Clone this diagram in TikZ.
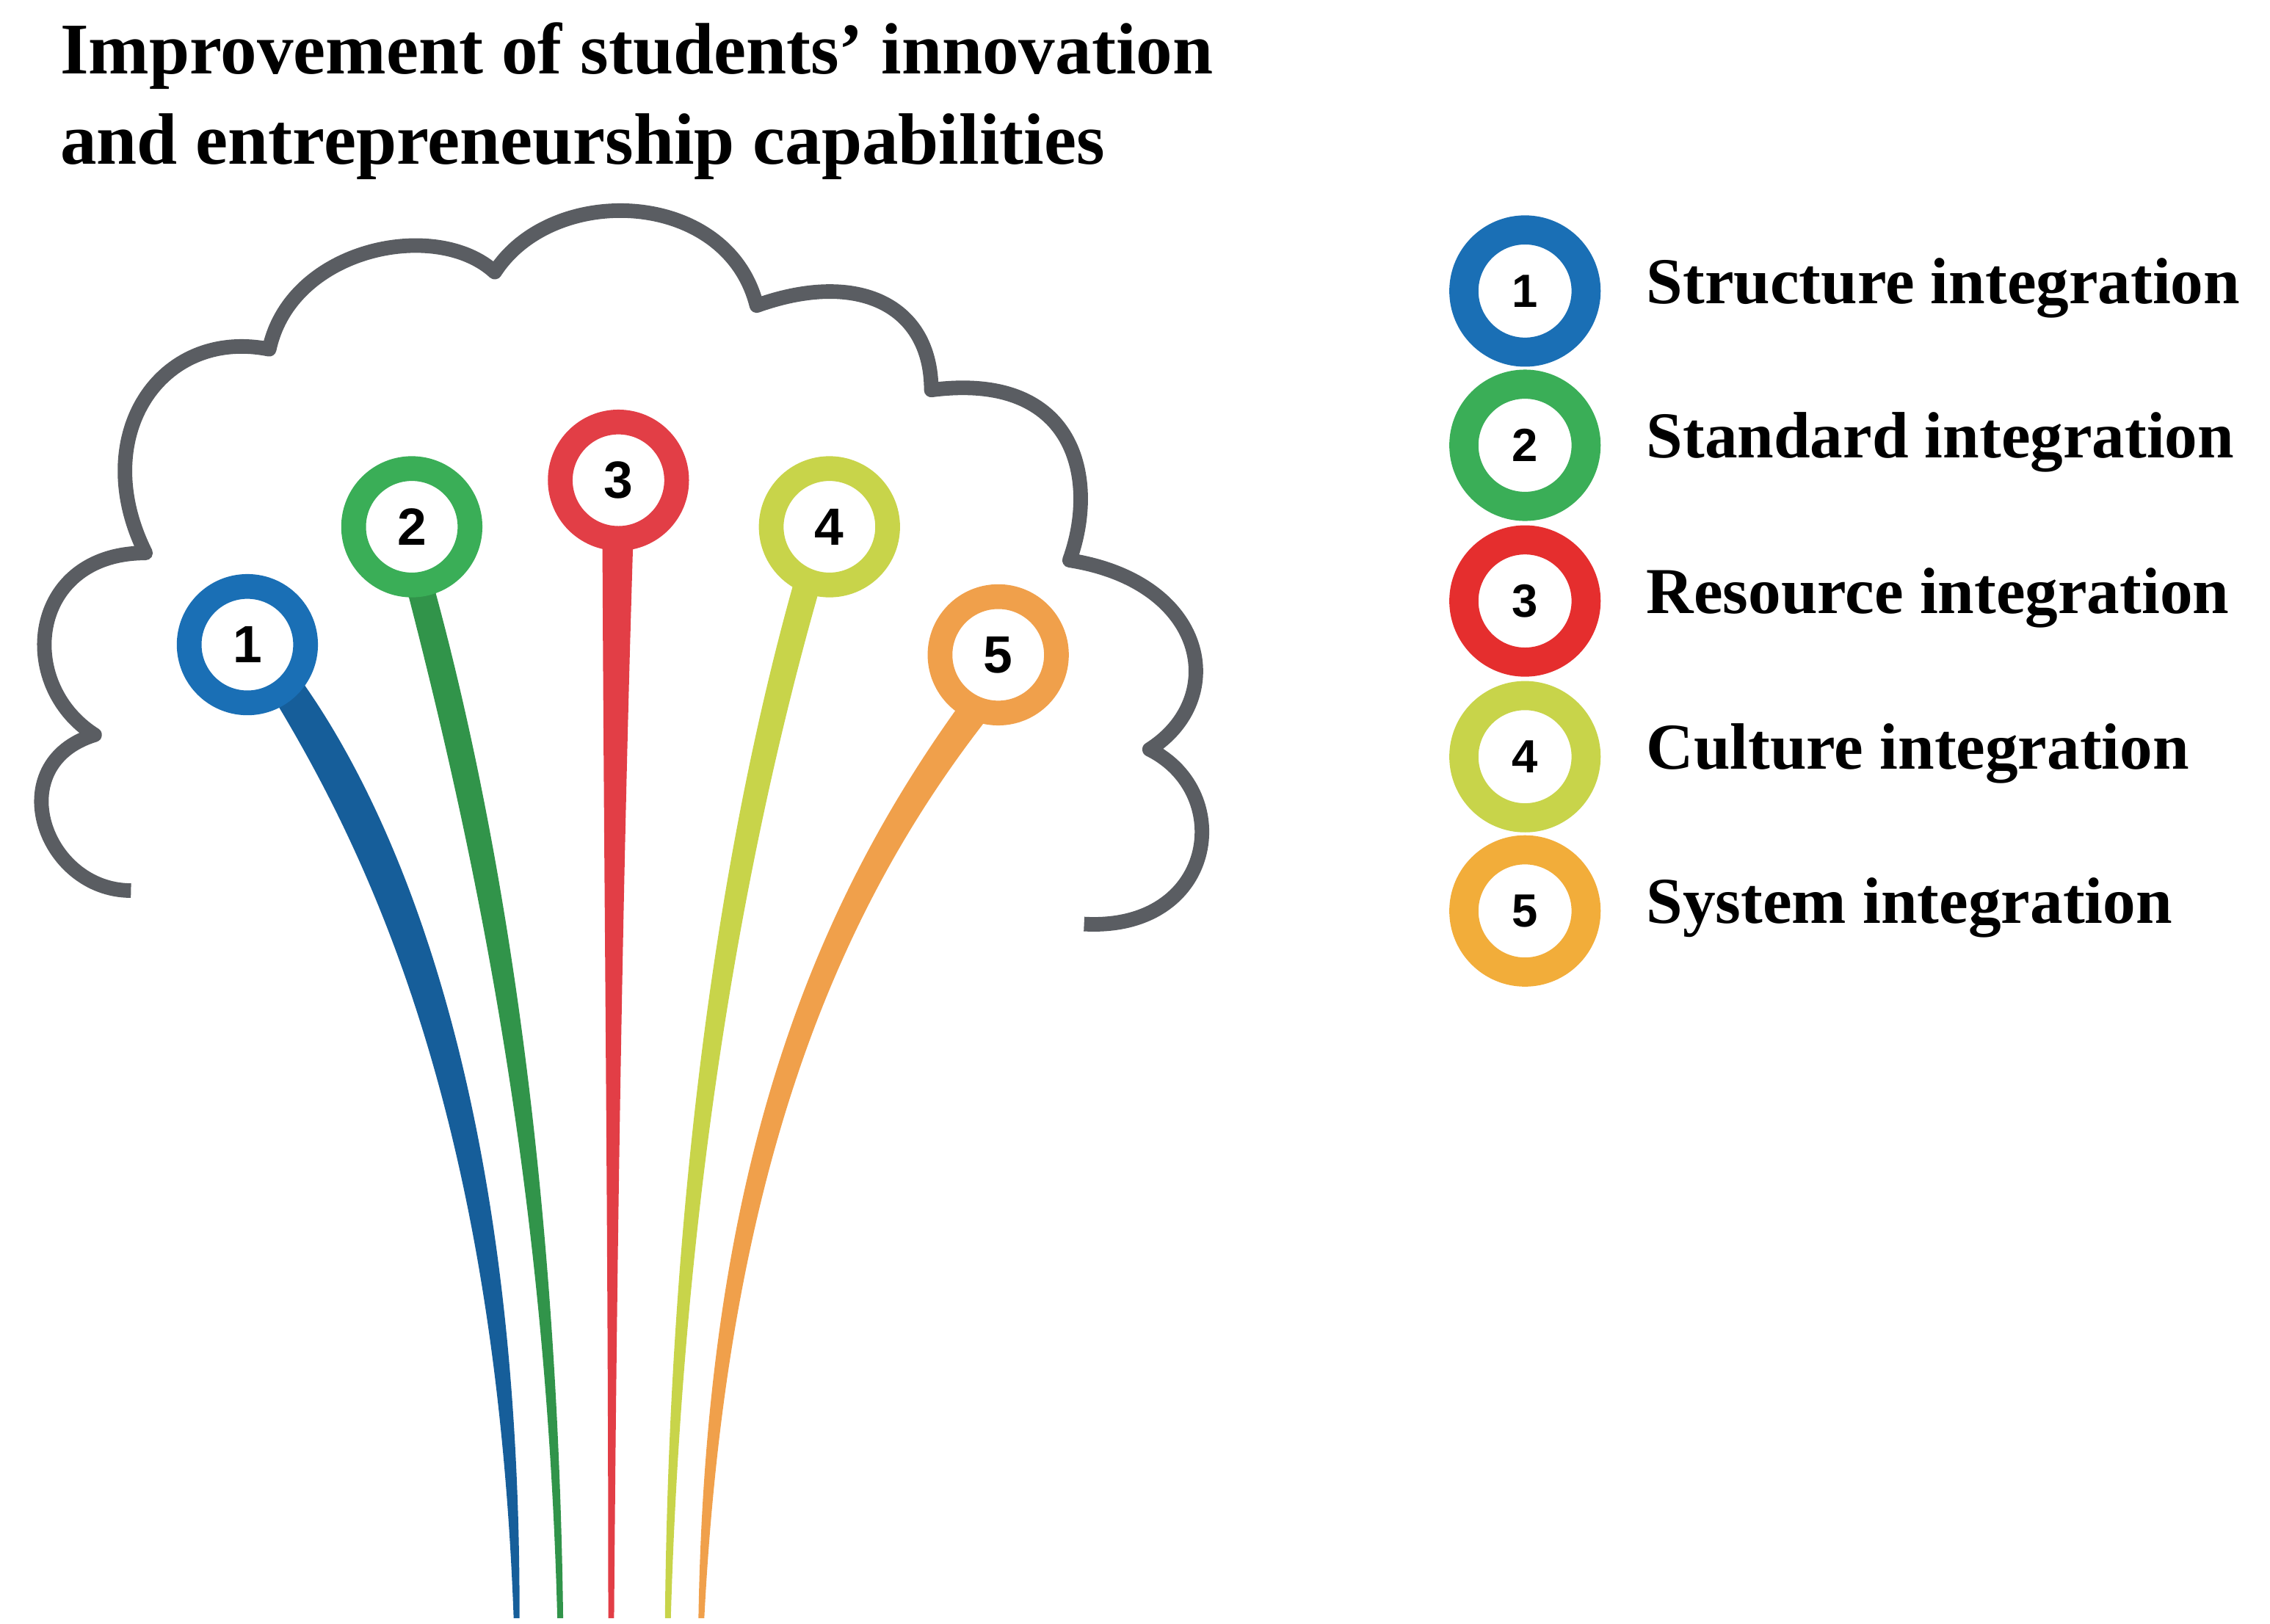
\documentclass[tikz,border=0pt]{standalone}
\usepackage{fontspec}
\setmainfont{Liberation Serif}
\newfontfamily\numfont{Liberation Sans}
\definecolor{cgray}{HTML}{5A5D62}
\definecolor{cblue}{HTML}{1A6FB5}
\definecolor{cgreen}{HTML}{3AAE57}
\definecolor{cred}{HTML}{E23E46}
\definecolor{cyel}{HTML}{C8D44A}
\definecolor{corg}{HTML}{F0A04B}
\definecolor{lred}{HTML}{E52E2E}
\definecolor{lorg}{HTML}{F2AD3A}
\begin{document}
\begin{tikzpicture}[x=1pt,y=-1pt,
  ring/.style={circle,draw=#1,line width=17pt,fill=white,minimum size=80pt,inner sep=0pt,font=\numfont\bfseries\fontsize{36}{36}\selectfont},
  lring/.style={circle,draw=#1,line width=20pt,fill=white,minimum size=84pt,inner sep=0pt,font=\numfont\bfseries\fontsize{32}{32}\selectfont},
  ltext/.style={anchor=west,font=\bfseries\fontsize{45}{48}\selectfont}]
\useasboundingbox (0,0) rectangle (1560,1116);
\node[anchor=north west,align=left,font=\bfseries\fontsize{50}{62}\selectfont] (title) at (38,12) {Improvement of students’ innovation\\and entrepreneurship capabilities};
% cloud
\draw[cgray,line width=10pt,line join=round] (90,612) .. controls (30,612) and (0,525) .. (65,505)
  .. controls (10,470) and (20,380) .. (100,380)
  .. controls (60,300) and (110,225) .. (185,240)
  .. controls (200,170) and (300,150) .. (340,187)
  .. controls (380,125) and (500,130) .. (520,210)
  .. controls (590,185) and (640,210) .. (640,268)
  .. controls (740,255) and (755,330) .. (735,385)
  .. controls (830,400) and (845,480) .. (790,515)
  .. controls (850,545) and (835,640) .. (745,635);
% stems
\fill[cblue!85!black] (182,470) .. controls (250,580) and (340,760) .. (353,1112) -- (357,1112) .. controls (358,760) and (275,560) .. (203,462) -- cycle;
\fill[cgreen!85!black] (277,395) .. controls (320,560) and (375,800) .. (383,1112) -- (387,1112) .. controls (383,800) and (342,560) .. (296,395) -- cycle;
\fill[cred] (414,375) .. controls (415,600) and (418,850) .. (418,1112) -- (422,1112) .. controls (424,850) and (428,600) .. (435,375) -- cycle;
\fill[cyel] (547,395) .. controls (500,560) and (460,800) .. (457,1112) -- (461,1112) .. controls (470,800) and (518,560) .. (566,395) -- cycle;
\fill[corg] (664,478) .. controls (560,620) and (485,800) .. (480,1112) -- (484,1112) .. controls (500,800) and (578,620) .. (683,488) -- cycle;
% circles
\node[ring=cblue] (s1) at (170,443) {1};
\node[ring=cgreen] (s2) at (283,362) {2};
\node[ring=cred] (s3) at (425,330) {3};
\node[ring=cyel] (s4) at (570,362) {4};
\node[ring=corg] (s5) at (686,450) {5};
% legend
\node[lring=cblue] (l1) at (1048,200) {1};
\node[lring=cgreen] (l2) at (1048,306) {2};
\node[lring=lred] (l3) at (1048,413) {3};
\node[lring=cyel] (l4) at (1048,520) {4};
\node[lring=lorg] (l5) at (1048,626) {5};
\node[ltext] (t1) at (1128,198) {Structure integration};
\node[ltext] (t2) at (1128,304) {Standard integration};
\node[ltext] (t3) at (1128,411) {Resource integration};
\node[ltext] (t4) at (1128,518) {Culture integration};
\node[ltext] (t5) at (1128,624) {System integration};
\end{tikzpicture}
\end{document}
